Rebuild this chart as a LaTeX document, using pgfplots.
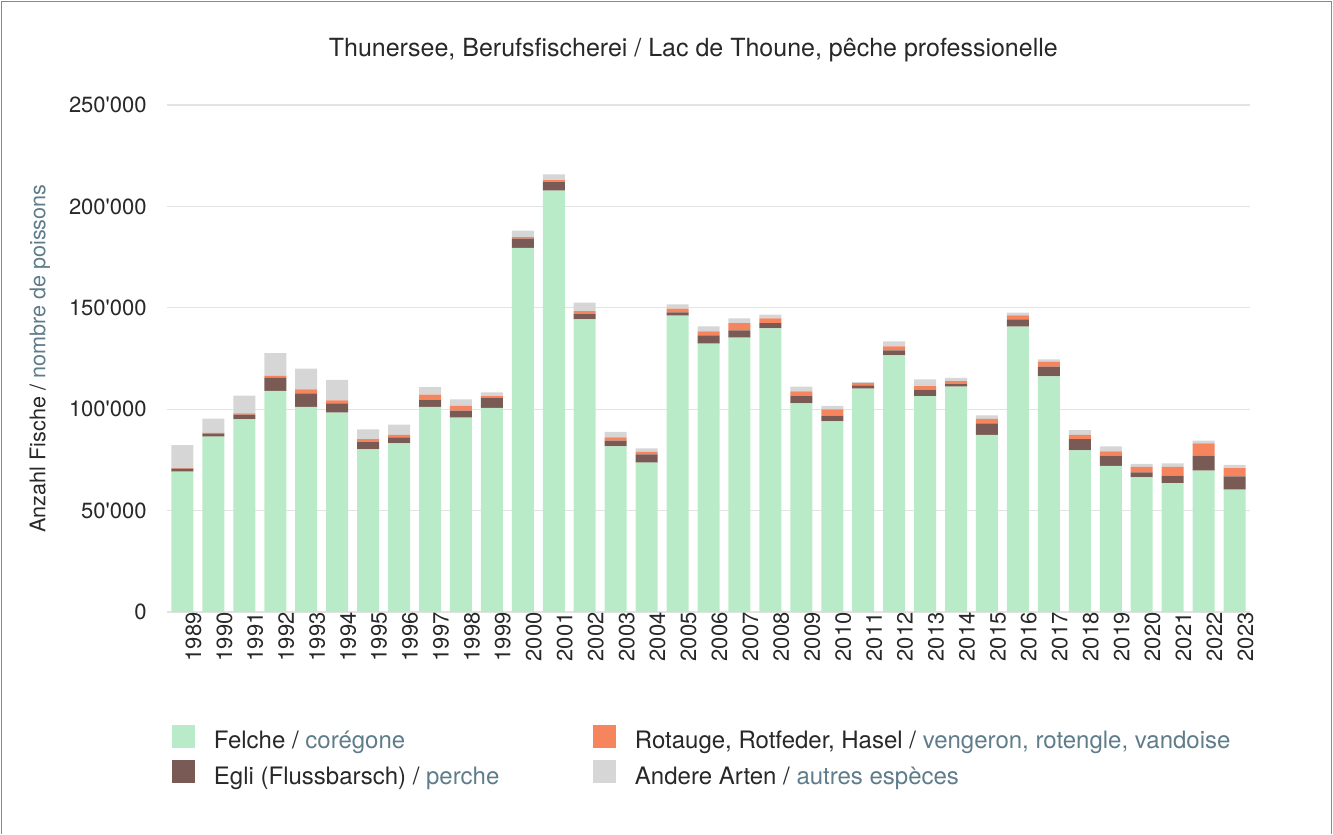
\documentclass[border=0pt]{standalone}
\usepackage{fontspec}
\setmainfont{TeX Gyre Heros}
\usepackage{pgfplots}
\pgfplotsset{compat=1.18}

\definecolor{felche}{RGB}{186,235,201}
\definecolor{egli}{RGB}{122,90,84}
\definecolor{rotauge}{RGB}{246,132,92}
\definecolor{andere}{RGB}{214,214,214}
\definecolor{slate}{RGB}{95,124,138}
\definecolor{framec}{RGB}{122,140,150}
\definecolor{txt}{RGB}{40,40,40}

\begin{document}
\begin{tikzpicture}
\begin{axis}[
  scale only axis, width=541.5pt, height=253.5pt,
  ybar stacked, bar width=11pt,
  xmin=1988.5, xmax=2023.5, ymin=0, ymax=250000,
  xtick={1989,...,2023}, ytick={0,50000,...,250000},
  yticklabels={0,50\textquotesingle000,100\textquotesingle000,150\textquotesingle000,200\textquotesingle000,250\textquotesingle000},
  xticklabel={\pgfmathtruncatemacro\yr{round(\tick)}\yr},
  scaled y ticks=false,
  y tick label style={anchor=east, inner sep=0pt, xshift=-10pt},
  x tick label style={rotate=90, anchor=east, inner sep=0pt, yshift=-5.5pt},
  tick label style={font=\fontsize{11}{13}\selectfont, text=txt},
  major tick length=0pt,
  axis line style={draw=none},
  ymajorgrids, grid style={gray!22, line width=0.6pt},
  title={Thunersee, Berufsfischerei / Lac de Thoune, pêche professionelle},
  title style={at={(axis description cs:0.486,1.0848)}, anchor=center, font=\fontsize{12.5}{14}\selectfont, text=txt},
  ylabel={Anzahl Fische / \textcolor{slate}{nombre de poissons}},
  ylabel style={at={(axis description cs:-0.1173,0.5)}, anchor=center, font=\fontsize{10.8}{13}\selectfont, text=txt},
  legend columns=2, transpose legend,
  legend cell align=left,
  legend image code/.code={\fill[#1] (0pt,-3.25pt) rectangle (11.5pt,8.25pt); \path (21pt,0pt);},
  legend style={draw=none, fill=none, inner sep=0pt, outer sep=0pt,
    at={(axis description cs:0.0046,-0.2219)}, anchor=north west,
    font=\fontsize{12}{14}\selectfont, text=txt, row sep=4.5pt,
    nodes={inner sep=0pt}},
]
\addplot[fill=felche, draw=none] coordinates {
(1989,69200) (1990,86500) (1991,95000) (1992,109000) (1993,101100) (1994,98300)
(1995,80200) (1996,83200) (1997,101100) (1998,95800) (1999,100700) (2000,179500)
(2001,207800) (2002,144300) (2003,81700) (2004,73600) (2005,146100) (2006,132300)
(2007,135300) (2008,139900) (2009,102900) (2010,94000) (2011,110100) (2012,126600)
(2013,106400) (2014,111100) (2015,87400) (2016,140700) (2017,116200) (2018,79700)
(2019,72000) (2020,66400) (2021,63500) (2022,69700) (2023,60300)};
\addlegendentry{\makebox[189.5pt][l]{Felche / \textcolor{slate}{corégone}}}
\addplot[fill=egli, draw=none] coordinates {
(1989,1500) (1990,1300) (1991,2300) (1992,6400) (1993,6700) (1994,4600)
(1995,3600) (1996,2900) (1997,3400) (1998,3500) (1999,4800) (2000,4600)
(2001,4200) (2002,2600) (2003,2800) (2004,4100) (2005,1700) (2006,4100)
(2007,3600) (2008,2600) (2009,3800) (2010,2800) (2011,1700) (2012,2400)
(2013,3200) (2014,1300) (2015,5600) (2016,3600) (2017,4800) (2018,5500)
(2019,5100) (2020,2500) (2021,3700) (2022,7400) (2023,6600)};
\addlegendentry{\makebox[189.5pt][l]{Egli (Flussbarsch) / \textcolor{slate}{perche}}}
\addplot[fill=rotauge, draw=none] coordinates {
(1989,300) (1990,500) (1991,700) (1992,1000) (1993,2000) (1994,1500)
(1995,1400) (1996,1300) (1997,2700) (1998,2400) (1999,1000) (2000,800)
(2001,1000) (2002,1400) (2003,1600) (2004,1200) (2005,1800) (2006,2000)
(2007,3600) (2008,2300) (2009,2100) (2010,3100) (2011,1000) (2012,2000)
(2013,1800) (2014,1500) (2015,2200) (2016,2000) (2017,2400) (2018,2200)
(2019,2100) (2020,2700) (2021,4400) (2022,6100) (2023,4000)};
\addlegendentry{Rotauge, Rotfeder, Hasel / \textcolor{slate}{vengeron, rotengle, vandoise}}
\addplot[fill=andere, draw=none] coordinates {
(1989,11300) (1990,7000) (1991,8700) (1992,11200) (1993,10200) (1994,10000)
(1995,4900) (1996,5000) (1997,3700) (1998,3200) (1999,1800) (2000,3100)
(2001,2800) (2002,4200) (2003,2700) (2004,1800) (2005,2100) (2006,2500)
(2007,2300) (2008,1800) (2009,2300) (2010,1700) (2011,600) (2012,2500)
(2013,3300) (2014,1600) (2015,1800) (2016,1300) (2017,1200) (2018,2300)
(2019,2500) (2020,1400) (2021,1700) (2022,1300) (2023,1700)};
\addlegendentry{Andere Arten / \textcolor{slate}{autres espèces}}
\end{axis}
\path (-83.5pt,-111pt) rectangle (583pt,306pt);
\draw[framec, line width=0.8pt] (-82.75pt,-111pt) -- (-82.75pt,305.25pt) -- (582.25pt,305.25pt) -- (582.25pt,-111pt);
\end{tikzpicture}
\end{document}
